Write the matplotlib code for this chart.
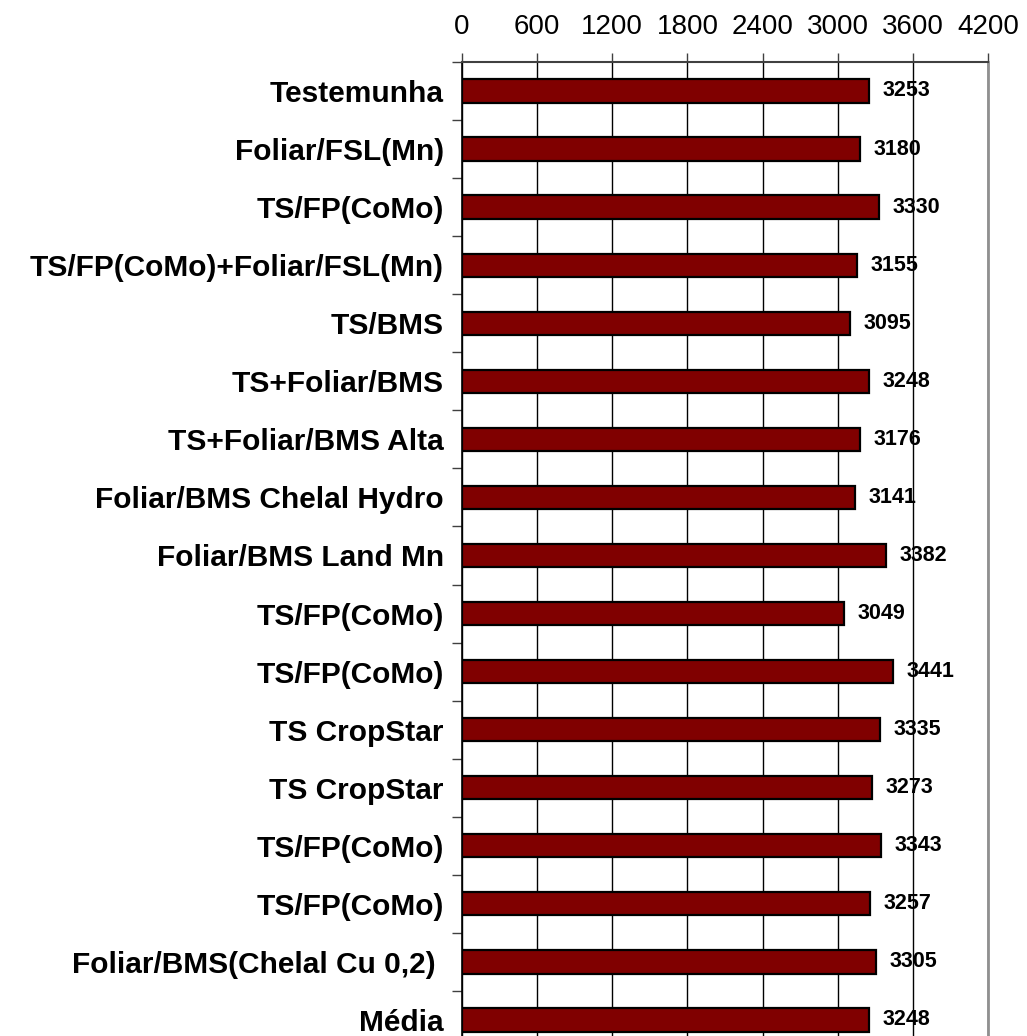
import matplotlib
matplotlib.use("Agg")
import matplotlib.pyplot as plt
import numpy as np

categories = [
    "Testemunha", "Foliar/FSL(Mn)", "TS/FP(CoMo)", "TS/FP(CoMo)+Foliar/FSL(Mn)",
    "TS/BMS", "TS+Foliar/BMS", "TS+Foliar/BMS Alta", "Foliar/BMS Chelal Hydro",
    "Foliar/BMS Land Mn", "TS/FP(CoMo)", "TS/FP(CoMo)", "TS CropStar",
    "TS CropStar", "TS/FP(CoMo)", "TS/FP(CoMo)", "Foliar/BMS(Chelal Cu 0,2) ",
    "Média",
]
values = [3253, 3180, 3330, 3155, 3095, 3248, 3176, 3141, 3382, 3049,
          3441, 3335, 3273, 3343, 3257, 3305, 3248]
xticks = [0, 600, 1200, 1800, 2400, 3000, 3600, 4200]

plt.rcParams['font.family'] = ['Liberation Sans', 'DejaVu Sans']

fig = plt.figure(figsize=(10.27, 10.36), dpi=100)
ax = fig.add_axes([0.4499, -0.01255, 0.962 - 0.4499, 0.9402 + 0.01255])

y = np.arange(len(categories))
ax.barh(y, values, height=0.4, color='#800000', edgecolor='black', linewidth=1.6, zorder=3)

for yi, v in zip(y, values):
    ax.text(v + 108, yi, str(v), va='center', ha='left', fontsize=15.5,
            fontweight='bold', zorder=4)

ax.set_xlim(0, 4200)
ax.set_ylim(len(categories) - 0.5, -0.5)
ax.xaxis.tick_top()
ax.set_xticks(xticks)
ax.set_xticklabels([str(t) for t in xticks], fontsize=20)
ax.tick_params(axis='x', direction='out', length=6.5, width=1, pad=9, color='#404040')
ax.grid(axis='x', color='black', linewidth=1, zorder=1)

ax.set_yticks(y)
ax.set_yticklabels(categories, fontsize=21.5, fontweight='bold')
ax.set_yticks(np.arange(len(categories) + 1) - 0.5, minor=True)
ax.tick_params(axis='y', which='major', length=0, pad=13)
ax.tick_params(axis='y', which='minor', length=7.5, width=1, color='#404040', direction='out')

ax.spines['left'].set_color('black')
ax.spines['left'].set_linewidth(1.2)
ax.spines['top'].set_color('#404040')
ax.spines['top'].set_linewidth(1.5)
ax.spines['right'].set_color('#909090')
ax.spines['right'].set_linewidth(2)
ax.spines['bottom'].set_visible(False)

fig.savefig("out.png", dpi=100)
